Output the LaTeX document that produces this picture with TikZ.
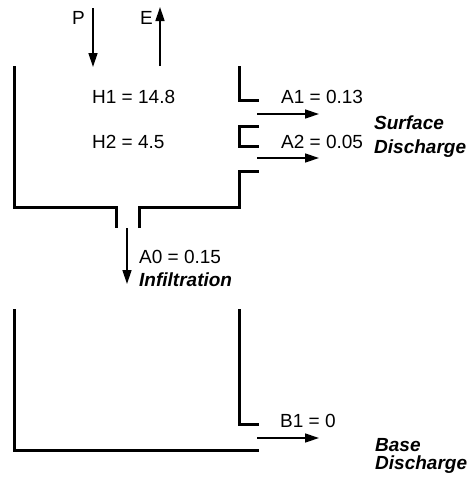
\documentclass[tikz,border=0pt]{standalone}
\usepackage{fontspec}
\setmainfont{Liberation Sans}
\usetikzlibrary{arrows.meta}
\begin{document}
\begin{tikzpicture}[x=1pt,y=-1pt,
  wall/.style={line width=3pt,line join=miter},
  flow/.style={line width=1.4pt,-{Triangle[length=14pt,width=9pt]}},
  lbl/.style={anchor=base west,inner sep=0pt,text height=13.5pt,text depth=4pt,font=\fontsize{19}{22}\selectfont},
  blbl/.style={lbl,font=\fontsize{19}{22}\selectfont\bfseries\itshape}]
\useasboundingbox[fill=white] (0,0) rectangle (476,479);
% upper tank
\draw[wall] (14,66) -- (14,207) -- (116,207) -- (116,228);
\draw[wall] (139,228) -- (139,207) -- (239,207) -- (239,171) -- (259,171);
\draw[wall] (239,66) -- (239,100) -- (259,100);
\draw[wall] (259,126) -- (239,126) -- (239,146) -- (259,146);
% lower tank
\draw[wall] (14,309) -- (14,450) -- (259,450);
\draw[wall] (239,309) -- (239,424) -- (259,424);
% arrow end points
\coordinate (p0) at (93,8);   \coordinate (p1) at (93,67);
\coordinate (e0) at (160,66); \coordinate (e1) at (160,7);
\coordinate (a1s) at (257,114); \coordinate (a1e) at (319,114);
\coordinate (a2s) at (257,158); \coordinate (a2e) at (319,158);
\coordinate (a0s) at (127,228); \coordinate (a0e) at (127,284);
\coordinate (b1s) at (257,438); \coordinate (b1e) at (319,438);
\draw[flow] (p0) -- (p1);
\draw[flow] (e0) -- (e1);
\draw[flow] (a1s) -- (a1e);
\draw[flow] (a2s) -- (a2e);
\draw[flow] (a0s) -- (a0e);
\draw[flow] (b1s) -- (b1e);
% labels
\node[lbl] (P) at (72,24) {P};
\node[lbl] (E) at (140,24) {E};
\node[lbl] (H1) at (92,103) {H1 = 14.8};
\node[lbl] (H2) at (92,148) {H2 = 4.5};
\node[lbl] (A1) at (281,103) {A1 = 0.13};
\node[lbl] (A2) at (281,148) {A2 = 0.05};
\node[blbl] (SD1) at (374,129) {Surface};
\node[blbl] (SD2) at (374,153) {Discharge};
\node[lbl] (A0) at (139,263) {A0 = 0.15};
\node[blbl] (INF) at (139,286) {Infiltration};
\node[lbl] (B1) at (280,427) {B1 = 0};
\node[blbl,text depth=0pt] (BD1) at (375,451) {Base};
\node[blbl] (BD2) at (375,469) {Discharge};
\end{tikzpicture}
\end{document}
